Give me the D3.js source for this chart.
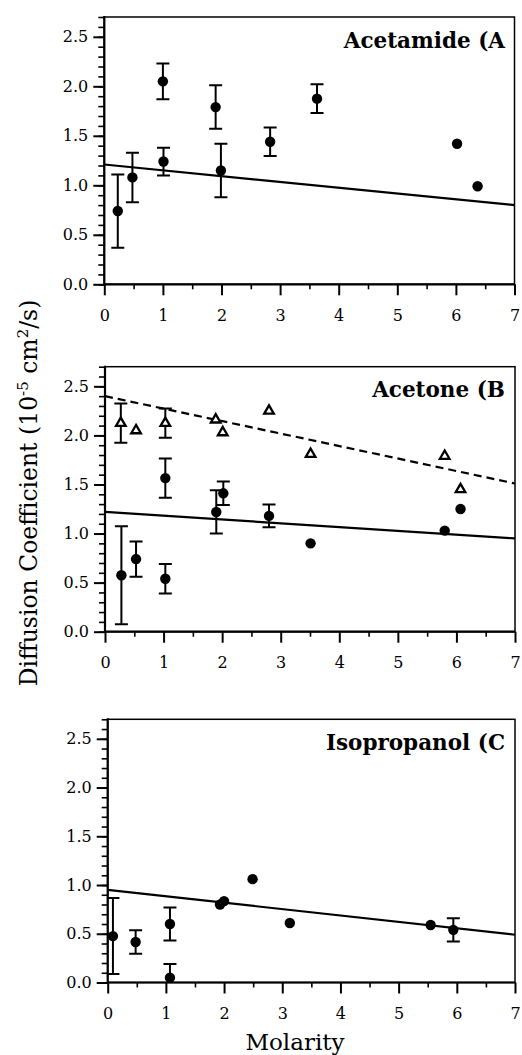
<!DOCTYPE html>
<html><head><meta charset="utf-8">
<script src="https://cdn.jsdelivr.net/npm/d3@7"></script>
<style>
html,body{margin:0;padding:0;background:#fff;}
svg{display:block;font-family:"DejaVu Serif",serif;}
</style></head><body>
<svg id="chart" width="522" height="1055"></svg>
<script>
// Axis ticks
const molarityTicks = [0, 1, 2, 3, 4, 5, 6, 7];
const diffusionTicks = [0, 0.5, 1.0, 1.5, 2.0, 2.5];

// (A) Acetamide: molarity, diffusion coefficient, error half-width, fit at 0 M and 7 M
const acetamideM   = [0.23, 0.48, 1.00, 1.01, 1.90, 1.99, 2.83, 3.63, 6.02, 6.37];
const acetamideD   = [0.74, 1.08, 2.05, 1.24, 1.79, 1.15, 1.44, 1.875, 1.42, 0.99];
const acetamideErr = [0.37, 0.25, 0.18, 0.14, 0.22, 0.27, 0.145, 0.145, 0, 0];
const acetamideFit = [1.21, 0.80];

// (B) Acetone: filled circles (solid fit) and open triangles (dashed fit)
const acetoneM   = [0.28, 0.53, 1.03, 1.03, 1.90, 2.02, 2.80, 3.51, 5.80, 6.07];
const acetoneD   = [0.575, 0.74, 1.565, 0.54, 1.22, 1.41, 1.18, 0.90, 1.03, 1.25];
const acetoneErr = [0.50, 0.18, 0.20, 0.15, 0.22, 0.12, 0.115, 0, 0, 0];
const acetoneFit = [1.22, 0.95];
const acetoneTriM   = [0.27, 0.53, 1.03, 1.89, 2.01, 2.80, 3.51, 5.80, 6.07];
const acetoneTriD   = [2.125, 2.05, 2.125, 2.16, 2.03, 2.25, 1.81, 1.79, 1.45];
const acetoneTriErr = [0.20, 0, 0.15, 0, 0, 0, 0, 0, 0];
const acetoneTriFit = [2.40, 1.51];

// (C) Isopropanol
const isopropanolM   = [0.09, 0.48, 1.07, 1.07, 1.93, 2.00, 2.49, 3.13, 5.55, 5.94];
const isopropanolD   = [0.476, 0.415, 0.60, 0.05, 0.80, 0.835, 1.06, 0.61, 0.59, 0.54];
const isopropanolErr = [0.39, 0.12, 0.17, 0.14, 0, 0, 0, 0, 0, 0.12];
const isopropanolFit = [0.95, 0.49];

const zip = (m, d, e) => m.map((v, i) => ({m: v, d: d[i], e: e[i]}));

const panels = [
  {id: "a", name: "Acetamide (A", left: 104.3, right: 514.5, top: 17, bottom: 284.3,
   circles: zip(acetamideM, acetamideD, acetamideErr), fits: [{v: acetamideFit, dash: null}], triangles: []},
  {id: "b", name: "Acetone (B", left: 105, right: 515, top: 366.7, bottom: 631.7,
   circles: zip(acetoneM, acetoneD, acetoneErr),
   fits: [{v: acetoneFit, dash: null}, {v: acetoneTriFit, dash: "8,5"}],
   triangles: zip(acetoneTriM, acetoneTriD, acetoneTriErr)},
  {id: "c", name: "Isopropanol (C", left: 107.7, right: 515, top: 719.3, bottom: 982.5,
   circles: zip(isopropanolM, isopropanolD, isopropanolErr), fits: [{v: isopropanolFit, dash: null}], triangles: []}
];

const svg = d3.select("#chart");
const defs = svg.append("defs");

panels.forEach(p => {
  const x = d3.scaleLinear().domain([0, 7]).range([p.left, p.right]);
  const y = d3.scaleLinear().domain([0, 2.7]).range([p.bottom, p.top]);
  const g = svg.append("g");

  defs.append("clipPath").attr("id", "clip-" + p.id)
    .append("rect").attr("x", p.left).attr("y", p.top)
    .attr("width", p.right - p.left).attr("height", p.bottom - p.top);

  // minor ticks
  g.append("g").attr("transform", `translate(${p.left},0)`)
    .call(d3.axisLeft(y).tickValues(d3.range(0, 28).map(i => i / 10)).tickSize(6).tickFormat(""))
    .call(a => a.select(".domain").remove())
    .call(a => a.selectAll("line").attr("stroke-width", 1.6));
  g.append("g").attr("transform", `translate(0,${p.bottom})`)
    .call(d3.axisBottom(x).tickValues(d3.range(0.5, 7, 1)).tickSize(5).tickFormat(""))
    .call(a => a.select(".domain").remove())
    .call(a => a.selectAll("line").attr("stroke-width", 1.6));

  // major ticks and labels
  g.append("g").attr("transform", `translate(${p.left},0)`)
    .call(d3.axisLeft(y).tickValues(diffusionTicks).tickSize(11).tickPadding(5).tickFormat(d3.format(".1f")))
    .call(a => a.select(".domain").remove())
    .call(a => a.selectAll("line").attr("stroke-width", 2))
    .call(a => a.selectAll("text").attr("font-family", "DejaVu Serif").attr("font-size", 16).attr("fill", "#000"));
  g.append("g").attr("transform", `translate(0,${p.bottom})`)
    .call(d3.axisBottom(x).tickValues(molarityTicks).tickSize(11).tickPadding(14).tickFormat(d3.format("d")))
    .call(a => a.select(".domain").remove())
    .call(a => a.selectAll("line").attr("stroke-width", 2))
    .call(a => a.selectAll("text").attr("font-family", "DejaVu Serif").attr("font-size", 16).attr("fill", "#000"));

  // frame
  g.append("rect").attr("x", p.left).attr("y", p.top)
    .attr("width", p.right - p.left).attr("height", p.bottom - p.top)
    .attr("fill", "none").attr("stroke", "#000").attr("stroke-width", 1.5);
  g.append("path").attr("d", `M${p.left},${p.top - 1}V${p.bottom}H${p.right}`)
    .attr("fill", "none").attr("stroke", "#000").attr("stroke-width", 2.2);

  // fitted lines
  p.fits.forEach(f => {
    g.append("line")
      .attr("x1", x(0)).attr("y1", y(f.v[0]))
      .attr("x2", x(7)).attr("y2", y(f.v[1]))
      .attr("stroke", "#000").attr("stroke-width", 2.2)
      .attr("stroke-dasharray", f.dash);
  });

  // error bars
  const eb = g.append("g").attr("clip-path", `url(#clip-${p.id})`)
    .attr("stroke", "#000").attr("stroke-width", 2).attr("fill", "none");
  p.circles.concat(p.triangles).filter(d => d.e > 0).forEach(d => {
    const cx = x(d.m), y1 = y(d.d + d.e), y0 = y(d.d - d.e), w = 6.5;
    eb.append("path").attr("d", `M${cx},${y1}V${y0}M${cx - w},${y1}H${cx + w}M${cx - w},${y0}H${cx + w}`);
  });

  // filled circles
  g.append("g").selectAll("circle").data(p.circles).join("circle")
    .attr("cx", d => x(d.m)).attr("cy", d => y(d.d)).attr("r", 5.2).attr("fill", "#000");

  // open triangles
  g.append("g").selectAll("path").data(p.triangles).join("path")
    .attr("transform", d => `translate(${x(d.m)},${y(d.d)})`)
    .attr("d", d3.symbol(d3.symbolTriangle, 40))
    .attr("fill", "#fff").attr("stroke", "#000").attr("stroke-width", 2.3);

  // panel title
  g.append("text").attr("x", 505).attr("y", p.top + 30.5)
    .attr("text-anchor", "end").attr("font-weight", "bold").attr("font-size", 21.5)
    .text(p.name);
});

// axis titles
svg.append("text").attr("x", 295).attr("y", 1050)
  .attr("text-anchor", "middle").attr("font-size", 23).text("Molarity");

const yt = svg.append("text")
  .attr("transform", "translate(37,493) rotate(-90)")
  .attr("text-anchor", "middle").attr("font-size", 23.5);
yt.append("tspan").text("Diffusion Coefficient (10");
yt.append("tspan").attr("dy", -9).attr("font-size", 15).text("-5");
yt.append("tspan").attr("dy", 9).text(" cm");
yt.append("tspan").attr("dy", -9).attr("font-size", 15).text("2");
yt.append("tspan").attr("dy", 9).text("/s)");
</script>
</body></html>
